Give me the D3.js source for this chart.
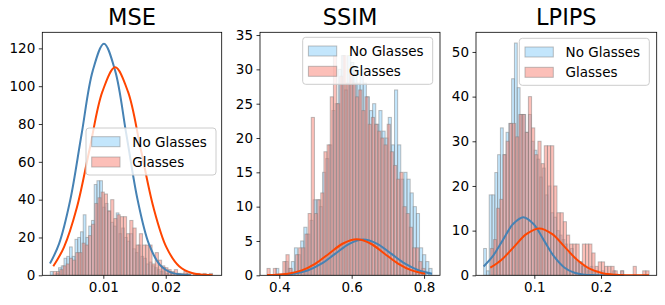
<!DOCTYPE html>
<html>
<head>
<meta charset="utf-8">
<script src="https://cdn.jsdelivr.net/npm/d3@7/dist/d3.min.js"></script>
<style>
  body { margin: 0; background: #fff; }
  text { font-family: "DejaVu Sans", sans-serif; fill: #000; }
</style>
</head>
<body>
<div id="chart"></div>
<script>
// ---- data ----
var titles = ["MSE", "SSIM", "LPIPS"];
var seriesNames = ["No Glasses", "Glasses"];

// MSE histograms (50 bins each, over each series' own range)
var mseNoGlassesRange = [0.0015, 0.0235];
var mseNoGlassesCounts = [2, 0, 1, 4, 5, 9, 10, 15, 10, 19, 20, 23, 32, 20, 26, 29, 48, 50, 50, 36,
  38, 34, 28, 26, 33, 22, 25, 20, 18, 22, 14, 12, 16, 10, 9, 6, 7, 5, 4, 3,
  2, 4, 1, 2, 1, 0, 1, 0, 0, 1];
var mseGlassesRange = [0.0020, 0.0275];
var mseGlassesCounts = [2, 2, 3, 5, 6, 9, 8, 12, 12, 17, 16, 21, 27, 38, 41, 44, 43, 34, 40, 30,
  32, 31, 31, 22, 29, 25, 16, 22, 16, 16, 16, 6, 12, 8, 5, 4, 3, 2, 3, 1,
  1, 2, 1, 0, 1, 1, 0, 1, 0, 1];
var mseNoGlassesFit = [[0.00145, 6.2], [0.0029, 16.6], [0.0047, 39.8], [0.0065, 74.3], [0.0083, 108.1],
  [0.0101, 122.5], [0.0119, 108.1], [0.0137, 74.3], [0.0155, 39.8], [0.0173, 16.6], [0.0191, 5.4],
  [0.0209, 1.4], [0.0227, 0.3], [0.0241, 0.06]];
var mseGlassesFit = [[0.00198, 4.8], [0.0037, 14.9], [0.00575, 35.7], [0.0078, 66.7], [0.00985, 97.1],
  [0.0119, 110], [0.01395, 97.1], [0.016, 66.7], [0.01805, 35.7], [0.0201, 14.9], [0.02215, 4.8],
  [0.0242, 1.2], [0.02625, 0.24], [0.0275, 0.08]];

// SSIM
var ssimNoGlassesRange = [0.39, 0.822];
var ssimNoGlassesCounts = [1, 0, 0, 2, 1, 2, 4, 3, 5, 7, 6, 8, 11, 11, 10, 15, 17, 19, 24, 25,
  30, 32, 27, 32, 31, 30, 28, 30, 28, 26, 24, 25, 22, 24, 21, 20, 23, 19, 27, 19,
  14, 15, 14, 12, 10, 9, 4, 3, 2, 1];
var ssimGlassesRange = [0.366, 0.803];
var ssimGlassesCounts = [1, 0, 1, 0, 0, 2, 3, 1, 0, 3, 4, 4, 6, 9, 23, 9, 11, 12, 18, 19,
  26, 32, 25, 29, 32, 28, 30, 28, 26, 27, 24, 26, 22, 23, 22, 21, 20, 19, 22, 18,
  16, 14, 15, 10, 9, 7, 4, 4, 2, 1];
var ssimNoGlassesFit = [[0.39, 0.04], [0.4395, 0.23], [0.478, 0.70], [0.5165, 1.69], [0.555, 3.15],
  [0.5935, 4.59], [0.632, 5.2], [0.6705, 4.59], [0.709, 3.15], [0.7475, 1.69], [0.786, 0.70], [0.822, 0.24]];
var ssimGlassesFit = [[0.366, 0.03], [0.386, 0.06], [0.424, 0.23], [0.462, 0.71], [0.5, 1.71],
  [0.538, 3.18], [0.576, 4.63], [0.614, 5.25], [0.652, 4.63], [0.69, 3.18], [0.728, 1.71], [0.766, 0.71], [0.803, 0.24]];

// LPIPS
var lpipsNoGlassesRange = [0.024, 0.234];
var lpipsNoGlassesCounts = [6, 1, 18, 18, 23, 27, 33, 27, 32, 34, 44, 52, 42, 36, 36, 32, 36, 30, 28, 26,
  22, 24, 18, 20, 14, 13, 10, 9, 8, 7, 5, 6, 4, 3, 3, 2, 2, 1, 2, 1,
  1, 0, 1, 0, 0, 0, 1, 0, 0, 1];
var lpipsGlassesRange = [0.034, 0.272];
var lpipsGlassesCounts = [6, 8, 15, 17, 27, 30, 34, 34, 31, 36, 36, 32, 40, 33, 27, 30, 25, 29, 29, 29,
  20, 14, 14, 12, 9, 7, 7, 7, 3, 7, 7, 7, 5, 2, 3, 3, 2, 2, 2, 1,
  0, 1, 0, 0, 0, 2, 0, 0, 1, 1];
var lpipsNoGlassesFit = [[0.024, 1.98], [0.03745, 4.22], [0.0528, 7.88], [0.06815, 11.47], [0.0835, 13],
  [0.09885, 11.47], [0.1142, 7.88], [0.12955, 4.22], [0.1449, 1.76], [0.16025, 0.57], [0.1756, 0.14],
  [0.19095, 0.03], [0.21, 0.004], [0.234, 0]];
var lpipsGlassesFit = [[0.034, 1.7], [0.0505, 3.41], [0.0695, 6.37], [0.0885, 9.27], [0.1075, 10.5],
  [0.1265, 9.27], [0.1455, 6.37], [0.1645, 3.41], [0.1835, 1.42], [0.2025, 0.46], [0.2215, 0.12],
  [0.2405, 0.02], [0.272, 0]];

// axis limits and ticks
var mseXDomain = [0.00022, 0.02897], mseYDomain = [0, 128.5];
var ssimXDomain = [0.3467, 0.844], ssimYDomain = [0, 35.4];
var lpipsXDomain = [0.01256, 0.2835], lpipsYDomain = [0, 54.4];
var mseXTicks = [0.01, 0.02], mseYTicks = [0, 20, 40, 60, 80, 100, 120];
var ssimXTicks = [0.4, 0.6, 0.8], ssimYTicks = [0, 5, 10, 15, 20, 25, 30, 35];
var lpipsXTicks = [0.1, 0.2], lpipsYTicks = [0, 10, 20, 30, 40, 50];

// ---- layout ----
var W = 665, H = 305;
var plotTop = 32.3, plotBottom = 275.3;
var panels = [
  { title: titles[0], left: 42.3, right: 221.7, xd: mseXDomain, yd: mseYDomain, xt: mseXTicks, yt: mseYTicks, xf: ".2f",
    hist: [[mseNoGlassesRange, mseNoGlassesCounts], [mseGlassesRange, mseGlassesCounts]],
    fits: [mseNoGlassesFit, mseGlassesFit], legend: { x: 86, y: 128 } },
  { title: titles[1], left: 260, right: 440, xd: ssimXDomain, yd: ssimYDomain, xt: ssimXTicks, yt: ssimYTicks, xf: ".1f",
    hist: [[ssimNoGlassesRange, ssimNoGlassesCounts], [ssimGlassesRange, ssimGlassesCounts]],
    fits: [ssimNoGlassesFit, ssimGlassesFit], legend: { x: 302.7, y: 37.3 } },
  { title: titles[2], left: 476, right: 656.7, xd: lpipsXDomain, yd: lpipsYDomain, xt: lpipsXTicks, yt: lpipsYTicks, xf: ".1f",
    hist: [[lpipsNoGlassesRange, lpipsNoGlassesCounts], [lpipsGlassesRange, lpipsGlassesCounts]],
    fits: [lpipsNoGlassesFit, lpipsGlassesFit], legend: { x: 519.3, y: 38.3 } }
];

var barFill = ["#87cefa", "#fa8072"];
var lineColor = ["#4682b4", "#ff4500"];

var svg = d3.select("#chart").append("svg")
  .attr("width", W).attr("height", H);

panels.forEach(function (p, pi) {
  var x = d3.scaleLinear().domain(p.xd).range([p.left, p.right]);
  var y = d3.scaleLinear().domain(p.yd).range([plotBottom, plotTop]);
  var g = svg.append("g");

  g.append("clipPath").attr("id", "clip" + pi)
    .append("rect").attr("x", p.left).attr("y", plotTop)
    .attr("width", p.right - p.left).attr("height", plotBottom - plotTop);
  var plot = g.append("g").attr("clip-path", "url(#clip" + pi + ")");

  // histograms
  p.hist.forEach(function (h, si) {
    var lo = h[0][0], hi = h[0][1], n = h[1].length, w = (hi - lo) / n;
    plot.append("g").selectAll("rect")
      .data(h[1])
      .enter().append("rect")
      .attr("x", function (d, i) { return x(lo + i * w); })
      .attr("width", function (d, i) { return x(lo + (i + 1) * w) - x(lo + i * w); })
      .attr("y", function (d) { return y(d); })
      .attr("height", function (d) { return y(0) - y(d); })
      .attr("fill", barFill[si]).attr("fill-opacity", 0.5)
      .attr("stroke", "#808080").attr("stroke-opacity", 0.5).attr("stroke-width", 1);
  });

  // fitted curves
  var line = d3.line()
    .x(function (d) { return x(d[0]); })
    .y(function (d) { return y(d[1]); })
    .curve(d3.curveCatmullRom.alpha(0.5));
  p.fits.forEach(function (f, si) {
    plot.append("path").datum(f)
      .attr("fill", "none").attr("stroke", lineColor[si]).attr("stroke-width", 2)
      .attr("d", line);
  });

  // axes
  var xAxis = g.append("g").attr("transform", "translate(0," + plotBottom + ")")
    .call(d3.axisBottom(x).tickValues(p.xt).tickFormat(d3.format(p.xf)).tickSize(3.5).tickPadding(3.5).tickSizeOuter(0));
  var yAxis = g.append("g").attr("transform", "translate(" + p.left + ",0)")
    .call(d3.axisLeft(y).tickValues(p.yt).tickFormat(d3.format("d")).tickSize(3.5).tickPadding(3.5).tickSizeOuter(0));
  [xAxis, yAxis].forEach(function (a) {
    a.select(".domain").remove();
    a.selectAll("text").style("font-size", "13.5px").style("font-family", "DejaVu Sans, sans-serif");
    a.selectAll("line").attr("stroke", "#000").attr("stroke-width", 0.8);
  });

  // frame
  g.append("rect").attr("x", p.left).attr("y", plotTop)
    .attr("width", p.right - p.left).attr("height", plotBottom - plotTop)
    .attr("fill", "none").attr("stroke", "#000").attr("stroke-width", 0.8);

  // title
  g.append("text").attr("x", (p.left + p.right) / 2).attr("y", 25)
    .attr("text-anchor", "middle").style("font-size", "22.5px").text(p.title);

  // legend
  var lg = g.append("g").attr("transform", "translate(" + p.legend.x + "," + p.legend.y + ")");
  lg.append("rect").attr("width", 130).attr("height", 47).attr("rx", 3)
    .attr("fill", "#fff").attr("fill-opacity", 0.8)
    .attr("stroke", "#cccccc").attr("stroke-width", 1);
  seriesNames.forEach(function (name, si) {
    lg.append("rect").attr("x", 5.7).attr("y", 8.7 + si * 20.3)
      .attr("width", 28.3).attr("height", 10)
      .attr("fill", barFill[si]).attr("fill-opacity", 0.5)
      .attr("stroke", "#808080").attr("stroke-opacity", 0.5).attr("stroke-width", 1);
    lg.append("text").attr("x", 46.3).attr("y", 18.7 + si * 20.3)
      .style("font-size", "13.5px").text(name);
  });
});
</script>
</body>
</html>
